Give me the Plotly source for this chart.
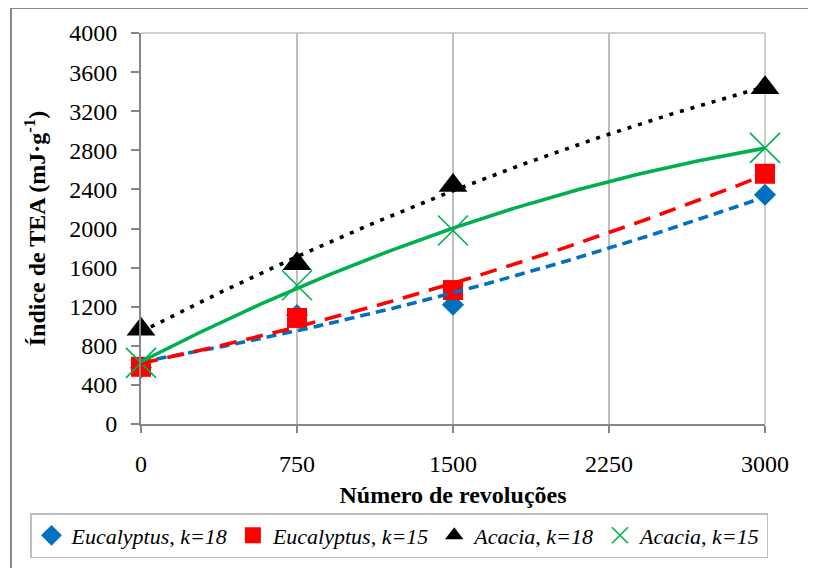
import numpy as np
import plotly.graph_objects as go

# ---- data ----
revolutions = [0, 750, 1500, 3000]
euc_k18 = [575, 1115, 1220, 2345]
euc_k15 = [585, 1085, 1370, 2560]
aca_k18 = [970, 1640, 2440, 3440]
aca_k15 = [625, 1420, 1980, 2825]

series_names = ["Eucalyptus, k=18", "Eucalyptus, k=15", "Acacia, k=18", "Acacia, k=15"]
x_ticks = [0, 750, 1500, 2250, 3000]
y_ticks = list(range(0, 4001, 400))

FONT = "Liberation Serif, Times New Roman, serif"
AXIS_GRAY = "#868686"
LIGHT_GRAY = "#bfbfbf"

styles = [
    dict(color="#0070C0", symbol="diamond", size=17, dash="10px,6px"),
    dict(color="#FF0000", symbol="square", size=20, dash="17px,10px"),
    dict(color="#000000", symbol="triangle-up", size=25, dash="4px,7px"),
    dict(color="#00B050", symbol="x-thin-open", size=30, dash="solid"),
]
values = [euc_k18, euc_k15, aca_k18, aca_k15]

fig = go.Figure()

# markers (legend entries)
for name, vals, st in zip(series_names, values, styles):
    marker = dict(color=st["color"], symbol=st["symbol"], size=st["size"])
    if st["symbol"] == "x-thin-open":
        marker["line"] = dict(color=st["color"], width=1.6)
    fig.add_trace(go.Scatter(
        x=revolutions, y=vals, mode="markers", name=name,
        marker=marker, cliponaxis=False,
    ))

# polynomial (order 2) trendlines, like the spreadsheet trendlines
xs = np.linspace(0, 3000, 121)
for vals, st in zip(values, styles):
    coef = np.polyfit(revolutions, vals, 2)
    fig.add_trace(go.Scatter(
        x=xs, y=np.polyval(coef, xs), mode="lines", showlegend=False,
        line=dict(color=st["color"], width=3.6, dash=st["dash"]),
        hoverinfo="skip", cliponaxis=False,
    ))

# page body has an 8px margin, so the figure is drawn 8px in from the corner
OFF = 8
W, H = 816 - OFF, 568 - OFF
L, R, T, B = 141 - OFF, 816 - 765, 33 - OFF, 568 - 424
pw, ph = W - L - R, H - T - B


def px_x(p):
    return (p - OFF - L) / pw


def px_y(p):
    return (H - B - (p - OFF)) / ph


fig.update_layout(
    width=W, height=H,
    margin=dict(l=L, r=R, t=T, b=B, pad=0, autoexpand=False),
    paper_bgcolor="white", plot_bgcolor="white",
    font=dict(family=FONT, size=24, color="black"),
    showlegend=True,
    legend=dict(
        orientation="h",
        x=px_x(30), xanchor="left",
        y=px_y(513), yanchor="top",
        bordercolor=LIGHT_GRAY, borderwidth=1.5,
        bgcolor="white",
        font=dict(family=FONT, size=22, style="italic"),
        itemwidth=30,
        tracegroupgap=0,
    ),
    xaxis=dict(
        range=[0, 3000], tickvals=x_ticks, ticktext=[str(v) for v in x_ticks],
        showgrid=True, gridcolor=LIGHT_GRAY, gridwidth=1.5,
        showline=True, linecolor=AXIS_GRAY, linewidth=2,
        ticks="outside", ticklen=7, tickwidth=1.5, tickcolor=AXIS_GRAY,
        ticklabelstandoff=10,
        zeroline=False,
        tickfont=dict(family=FONT, size=24),
        title=dict(text="<b>Número de revoluções</b>", standoff=10,
                   font=dict(family=FONT, size=24)),
    ),
    yaxis=dict(
        range=[0, 4000], tickvals=y_ticks, ticktext=[str(v) for v in y_ticks],
        showgrid=False,
        showline=True, linecolor=AXIS_GRAY, linewidth=2,
        ticks="outside", ticklen=8, tickwidth=1.5, tickcolor=AXIS_GRAY,
        ticklabelstandoff=9,
        zeroline=False,
        tickfont=dict(family=FONT, size=24),
        title=dict(text="<b>Índice de TEA (mJ·g<sup>-1</sup>)</b>", standoff=17,
                   font=dict(family=FONT, size=24)),
    ),
    shapes=[
        # top border of plot area
        dict(type="line", xref="paper", yref="paper", x0=0, x1=1, y0=1, y1=1,
             line=dict(color=LIGHT_GRAY, width=1.5), layer="below"),
        # right border of plot area
        dict(type="line", xref="paper", yref="paper", x0=1, x1=1, y0=0, y1=1,
             line=dict(color=LIGHT_GRAY, width=1.5), layer="below"),
        # outer chart frame
        dict(type="rect", xref="paper", yref="paper",
             x0=px_x(11), x1=px_x(840), y0=px_y(590), y1=px_y(8),
             line=dict(color=AXIS_GRAY, width=2), fillcolor="rgba(0,0,0,0)",
             layer="below"),
    ],
)

fig.write_html("out.html")
